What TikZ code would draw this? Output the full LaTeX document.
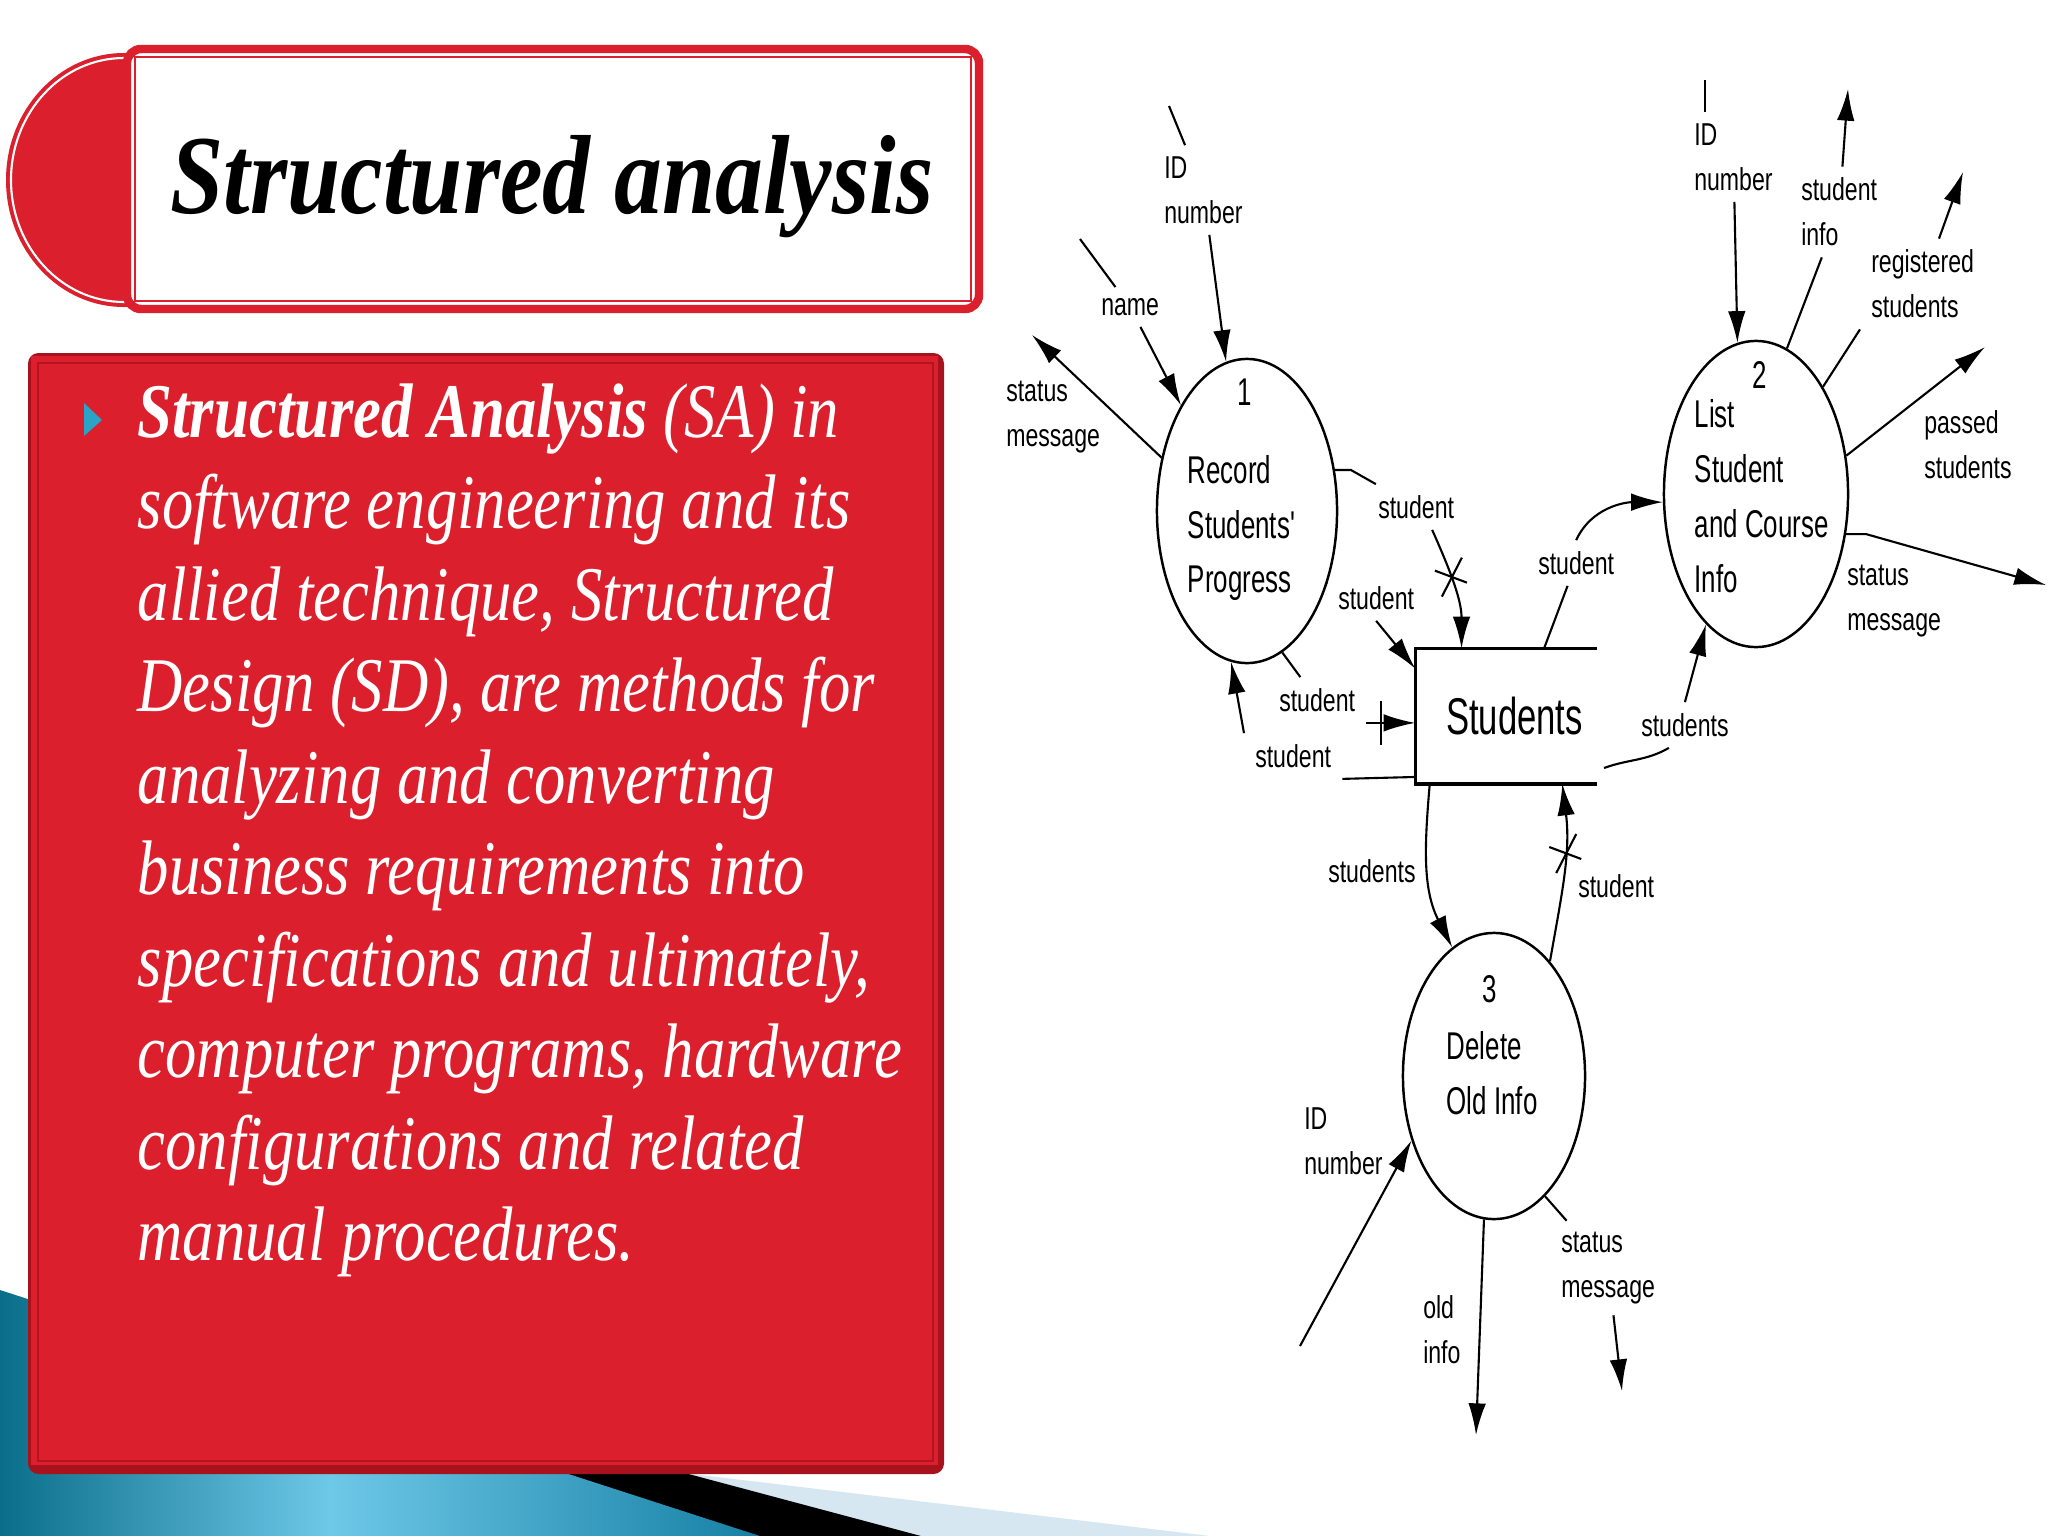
\documentclass[tikz,border=0pt]{standalone}
\usepackage{fontspec}
\usetikzlibrary{arrows.meta,shapes.geometric,calc}
\newfontfamily\dfdfont{Liberation Sans}[FakeStretch=0.73]
\newfontfamily\storefont{Liberation Sans}[FakeStretch=0.67]
\newfontfamily\slidefont{Liberation Serif}[FakeStretch=0.81]
\newfontfamily\titlefont{Liberation Serif}[FakeStretch=0.85]
\definecolor{slidered}{RGB}{220,31,44}
\definecolor{darkred}{RGB}{168,18,28}
\definecolor{bulletblue}{RGB}{41,163,198}
\definecolor{deepteal}{RGB}{10,110,138}
\definecolor{lightteal}{RGB}{110,200,232}
\definecolor{midteal}{RGB}{22,128,165}
\definecolor{paleblue}{RGB}{214,231,241}

\tikzset{
  proc/.style={ellipse, draw, line width=0.7pt, inner sep=0pt},
  flow/.style={line width=0.6pt},
  lbl/.style={font=\dfdfont\fontsize{9}{12.8}\selectfont, align=left, inner sep=3pt, anchor=west},
  ptext/.style={font=\storefont\fontsize{11}{15.6}\selectfont, align=left, inner sep=0pt},
  store/.style={font=\storefont\fontsize{14.7}{17}\selectfont, inner sep=0pt, minimum width=1.80cm, minimum height=1.34cm},
  >={Latex[length=9pt,width=5pt]},
  xmark/.pic={\draw[flow] (-16,-6) -- (16,6); \draw[flow] (11,-19) -- (-9,20);},
  plusmark/.pic={\draw[flow] (0,-22) -- (0,22);}
}

\begin{document}
\begin{tikzpicture}[x=0.01cm, y=-0.01cm]
    \useasboundingbox (0,0) rectangle (2048,1536);
    \fill[white] (0,0) rectangle (2048,1536);

    % slide background
    \fill[paleblue] (400,1439) -- (1210,1536) -- (400,1536) -- cycle;
    \fill[black] (400,1397) -- (921,1536) -- (400,1536) -- cycle;
    \begin{scope}
        \clip (0,1290) -- (760,1536) -- (0,1536) -- cycle;
        \shade[left color=deepteal, right color=lightteal] (0,1280) rectangle (330,1536);
        \shade[left color=lightteal, right color=midteal] (330,1280) rectangle (760,1536);
    \end{scope}

    \fill[darkred, rounded corners=3] (28,353) rectangle (944,1474);
    \fill[slidered] (31,356) rectangle (938,1465);
    \draw[darkred!80!slidered, line width=0.5pt] (38,363) rectangle (933,1461);
    \fill[bulletblue] (84,403) -- (102,420) -- (84,436) -- cycle;
    \foreach \txt [count=\i] in {{{\bfseries Structured Analysis} (SA) in}, {software engineering and its}, {allied technique, Structured}, {Design (SD), are methods for}, {analyzing and converting}, {business requirements into}, {specifications and ultimately,}, {computer programs, hardware}, {configurations and related}, {manual procedures.}}
        \node[anchor=base west, inner sep=0pt, text=white, font=\slidefont\itshape\fontsize{22}{26}\selectfont] (line\i) at (137,{437+91.5*(\i-1)}) {\txt};

    \fill[slidered] (124,180) ellipse [x radius=118, y radius=127];
    \draw[white, line width=0.6pt] (124,180) ellipse [x radius=113, y radius=122];
    \draw[slidered, line width=2.4pt, fill=white, rounded corners=4] (127,49) rectangle (979,309);
    \draw[slidered, line width=0.5pt] (135,57) rectangle (971,301);
    \node[anchor=base, inner sep=0pt, font=\titlefont\bfseries\itshape\fontsize{32}{36}\selectfont] (title) at (552,213) {Structured analysis};

    % data flow diagram
    \node[proc, minimum width=1.80cm, minimum height=3.04cm] (p1) at (1247,511) {};
    \node[proc, minimum width=1.84cm, minimum height=3.06cm] (p2) at (1756,494) {};
    \node[proc, minimum width=1.82cm, minimum height=2.86cm] (p3) at (1494,1076) {};
    \node[ptext] (p1num) at (1245,392) {1};
    \node[ptext, anchor=west] (p1txt) at (1187,528) {Record\\Students'\\Progress};
    \node[ptext] (p2num) at (1760,375) {2};
    \node[ptext, anchor=west] (p2txt) at (1694,496) {List\\Student\\and Course\\Info};
    \node[ptext] (p3num) at (1490,989) {3};
    \node[ptext, anchor=west] (p3txt) at (1446,1073) {Delete\\Old Info};
    \node[store] (st) at (1506,716) {\hspace{12\pgflinewidth}Students};
    \draw[line width=1pt] (st.north east) -- (st.north west) -- (st.south west) -- (st.south east);

    \node[lbl] (l1id) at (1153,190) {ID\\number};
    \node[lbl] (l1name) at (1090,307) {name};
    \node[lbl] (l1stat) at (995,417) {status\\message};
    \node[lbl] (l1d) at (1367,507) {student};
    \node[lbl] (l1e) at (1327,598) {student};
    \node[lbl] (l1f) at (1244,756) {student};
    \node[lbl] (l1g) at (1268,700) {student};
    \node[lbl] (l2id) at (1683,157) {ID\\number};
    \node[lbl] (l2info) at (1790,212) {student\\info};
    \node[lbl] (l2reg) at (1860,284) {registered\\students};
    \node[lbl] (l2pass) at (1913,445) {passed\\students};
    \node[lbl] (l2stat) at (1836,601) {status\\message};
    \node[lbl] (l2m) at (1527,563) {student};
    \node[lbl] (l2n) at (1630,725) {students};
    \node[lbl] (l3o) at (1317,871) {students};
    \node[lbl] (l3p) at (1567,886) {student};
    \node[lbl] (l3id) at (1293,1141) {ID\\number};
    \node[lbl] (l3old) at (1412,1330) {old\\info};
    \node[lbl] (l3stat) at (1550,1268) {status\\message};

    \coordinate (c1) at (1169,106);
    \coordinate (c2) at (1080,239);
    \coordinate (c3) at (1032,335);
    \coordinate (c8) at (1705,80);
    \coordinate (c9) at (1848,89);
    \coordinate (c10) at (1963,172);
    \coordinate (c11) at (1985,347);
    \coordinate (c12) at (2046,585);
    \coordinate (sn) at (1604,768);
    \coordinate (c17) at (1300,1346);
    \coordinate (c18) at (1476,1435);
    \coordinate (c19) at (1622,1391);
    \coordinate (sd) at ($(st.north west)!0.255!(st.north east)$);
    \coordinate (se) at ($(st.north west)!0.15!(st.south west)$);
    \coordinate (sf) at ($(st.south west)!0.05!(st.north west)$);
    \coordinate (sm) at ($(st.north west)!0.71!(st.north east)$);
    \coordinate (so) at ($(st.south west)!0.08!(st.south east)$);
    \coordinate (sp) at ($(st.south west)!0.81!(st.south east)$);

    \draw[flow] (c1) -- (l1id);
    \draw[flow,->] (l1id) -- (p1.98);
    \draw[flow] (c2) -- (l1name);
    \draw[flow,->] (l1name) -- (p1.122);
    \draw[flow,->] (p1.148) -- (c3);
    \draw[flow] (p1.25) -- ++(16,0) -- (l1d);
    \draw[flow,->] (l1d.-55) to[out=-66,in=90] coordinate[pos=0.4] (xd) (sd);
    \pic at (xd) {xmark};
    \draw[flow] (p1.-42) -- (l1e);
    \draw[flow,->] (l1e.south) -- (se);
    \draw[flow] (sf) -- (l1f.south east);
    \draw[flow,->] (l1f.north west) -- (p1.-96);
    \draw[flow] (p1.-76) -- (l1g);
    \draw[flow,->] (l1g.south east) -- coordinate[pos=0.3] (pg) (l1g.south east -| st.west);
    \pic at (pg) {plusmark};

    \draw[flow] (c8) -- (c8 |- l2id.north);
    \draw[flow,->] (l2id) -- (p2.97);
    \draw[flow] (p2.78) -- (l2info);
    \draw[flow,->] (l2info) -- (c9);
    \draw[flow] (p2.58) -- (l2reg.south west);
    \draw[flow,->] (l2reg) -- (c10);
    \draw[flow,->] (p2.23) -- (c11);
    \draw[flow,->] (p2.-24) -- ++(20,0) -- (c12);
    \draw[flow] (sm) -- (l2m);
    \draw[flow,->] (l2m.north) to[out=65,in=180] (p2.185);
    \draw[flow] (sn) to[out=20,in=-150] (l2n.-125);
    \draw[flow,->] (l2n.north) -- (p2.249);

    \draw[flow,->] (so) to[out=-95,in=117] (p3.108);
    \draw[flow,->] (p3.64) to[out=80,in=-83] coordinate[pos=0.62] (pp) (sp);
    \pic at (pp) {xmark};
    \draw[flow,->] (c17) -- (p3.218);
    \draw[flow,->] (p3.266) -- (c18);
    \draw[flow] (p3.293) -- (l3stat);
    \draw[flow,->] (l3stat) -- (c19);
\end{tikzpicture}
\end{document}
